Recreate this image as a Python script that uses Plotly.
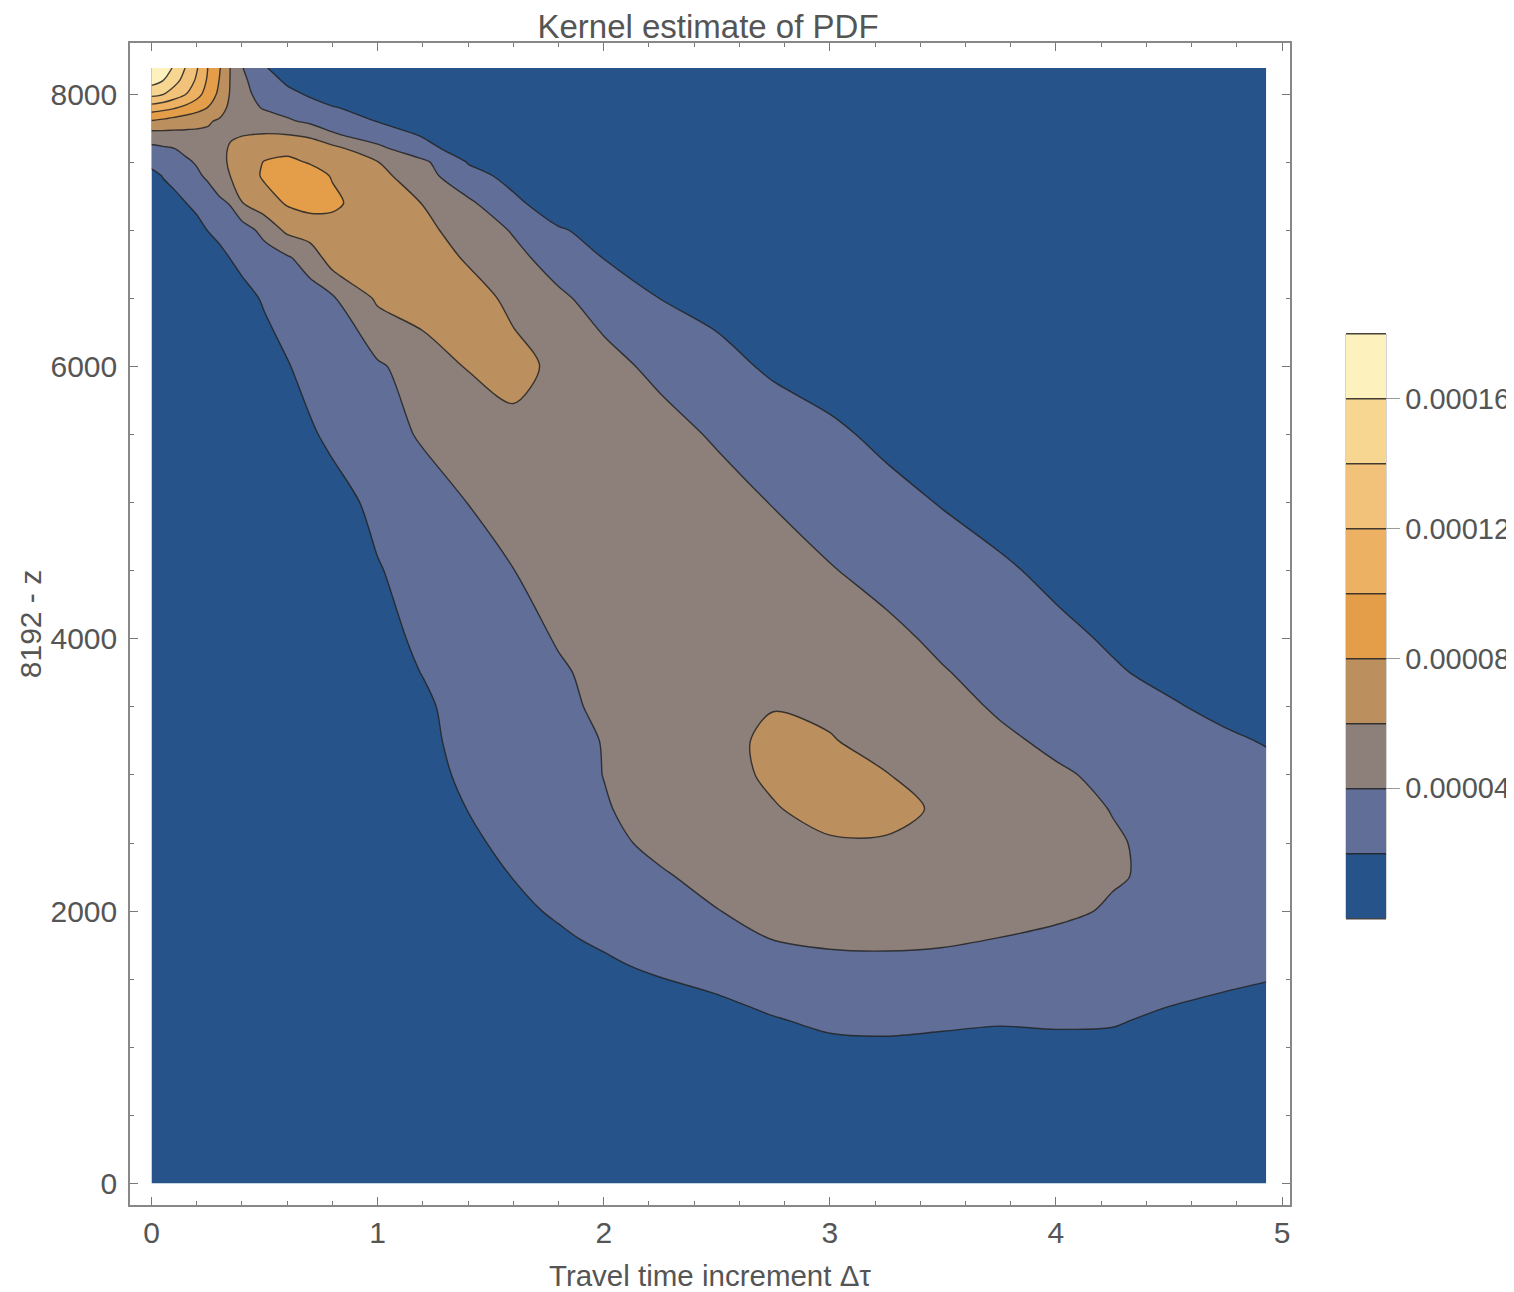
import plotly.graph_objects as go

FONT = "Liberation Sans, Arial, Helvetica, sans-serif"
TXT = "#555555"

# Grid of the kernel density estimate (in units of 1e-5)
tau = [0, 0.05, 0.1, 0.15, 0.2, 0.25, 0.3, 0.35, 0.4, 0.5, 0.6, 0.7, 0.8, 1.0, 1.2, 1.4,
       1.6, 1.8, 2.0, 2.25, 2.5, 2.75, 3.0, 3.25, 3.5, 3.75, 4.0, 4.25, 4.5, 4.75, 4.93]
depth = [0, 600, 1000, 1200, 1400, 1600, 1800, 2000, 2250, 2500, 2750, 3000, 3250, 3500,
         3750, 4000, 4500, 5000, 5500, 6000, 6500, 6800, 7000, 7200, 7400, 7500, 7600,
         7700, 7800, 7900, 8000, 8100, 8192]

pdf_y0 = [0.1, 0.1, 0.1, 0.1, 0.1, 0.1, 0.1, 0.1, 0.1, 0.1, 0.1, 0.1, 0.1, 0.1, 0.1, 0.1,
          0.1, 0.15, 0.2, 0.25, 0.3, 0.3, 0.35, 0.35, 0.35, 0.35, 0.35, 0.35, 0.3, 0.3, 0.25]
pdf_y600 = [0.1, 0.1, 0.1, 0.1, 0.1, 0.1, 0.1, 0.1, 0.1, 0.1, 0.1, 0.1, 0.1, 0.1, 0.12, 0.15,
            0.2, 0.3, 0.4, 0.5, 0.6, 0.7, 0.8, 0.85, 0.85, 0.8, 0.75, 0.75, 0.8, 0.7, 0.6]
pdf_y1000 = [0.1, 0.1, 0.1, 0.1, 0.1, 0.1, 0.1, 0.1, 0.1, 0.1, 0.1, 0.1, 0.1, 0.15, 0.25, 0.35,
             0.5, 0.65, 0.8, 0.95, 1.1, 1.4, 1.68, 1.69, 1.5, 1.3, 1.42, 1.58, 1.4, 1.1, 1.0]
pdf_y1200 = [0.1, 0.1, 0.1, 0.1, 0.1, 0.1, 0.1, 0.1, 0.1, 0.1, 0.1, 0.1, 0.12, 0.2, 0.35, 0.5,
             0.7, 0.9, 1.1, 1.3, 1.5, 1.9, 2.3, 2.45, 2.35, 2.2, 2.3, 2.15, 1.7, 1.45, 1.3]
pdf_y1400 = [0.1, 0.1, 0.1, 0.1, 0.1, 0.1, 0.1, 0.1, 0.1, 0.1, 0.1, 0.1, 0.12, 0.2, 0.4, 0.6,
             0.85, 1.1, 1.35, 1.6, 2.03, 2.55, 2.9, 3.0, 2.95, 2.85, 2.7, 2.55, 2.3, 1.97, 1.8]
pdf_y1600 = [0.1, 0.1, 0.1, 0.1, 0.1, 0.1, 0.1, 0.1, 0.1, 0.1, 0.1, 0.1, 0.15, 0.3, 0.55, 0.8,
             1.1, 1.5, 1.75, 2.3, 2.85, 3.3, 3.55, 3.6, 3.5, 3.35, 3.15, 2.95, 2.75, 2.55, 2.3]
pdf_y1800 = [0.1, 0.1, 0.1, 0.1, 0.1, 0.1, 0.1, 0.1, 0.1, 0.1, 0.1, 0.12, 0.2, 0.4, 0.7, 1.0,
             1.3, 1.8, 2.25, 2.85, 3.45, 4.05, 4.3, 4.35, 4.25, 3.98, 3.6, 3.3, 3.05, 2.9, 2.75]
pdf_y2000 = [0.1, 0.1, 0.1, 0.1, 0.1, 0.1, 0.1, 0.1, 0.1, 0.1, 0.12, 0.15, 0.25, 0.5, 0.85, 1.3,
             1.7, 2.17, 2.67, 3.31, 3.96, 4.4, 4.65, 4.75, 4.75, 4.6, 4.4, 3.8, 3.45, 3.15, 2.9]
pdf_y2250 = [0.1, 0.1, 0.1, 0.1, 0.1, 0.1, 0.1, 0.1, 0.1, 0.1, 0.12, 0.2, 0.3, 0.7, 1.1, 1.6,
             2.02, 2.57, 3.12, 3.83, 4.45, 4.9, 5.15, 5.2, 5.1, 4.9, 4.6, 4.15, 3.65, 3.3, 3.0]
pdf_y2500 = [0.1, 0.1, 0.1, 0.1, 0.1, 0.1, 0.1, 0.1, 0.1, 0.12, 0.15, 0.25, 0.4, 0.9, 1.3, 1.75,
             2.35, 2.99, 3.62, 4.35, 4.9, 5.4, 5.85, 5.85, 5.5, 5.1, 4.6, 4.15, 3.6, 3.3, 2.95]
pdf_y2750 = [0.1, 0.1, 0.1, 0.1, 0.1, 0.1, 0.1, 0.1, 0.12, 0.15, 0.2, 0.3, 0.45, 1.0, 1.5, 2.02,
             2.64, 3.26, 3.89, 4.57, 5.24, 5.9, 6.5, 6.5, 5.76, 5.16, 4.55, 3.95, 3.5, 3.1, 2.8]
pdf_y3000 = [0.1, 0.1, 0.1, 0.1, 0.1, 0.1, 0.1, 0.1, 0.15, 0.2, 0.25, 0.35, 0.5, 1.2, 1.6, 2.23,
             2.83, 3.43, 4.02, 4.75, 5.47, 6.25, 6.6, 6.05, 5.43, 4.81, 4.19, 3.7, 3.25, 2.8, 2.45]
pdf_y3250 = [0.1, 0.1, 0.1, 0.1, 0.1, 0.1, 0.1, 0.15, 0.15, 0.2, 0.3, 0.4, 0.6, 1.3, 1.75, 2.33,
             2.93, 3.52, 4.05, 4.84, 5.56, 6.3, 6.1, 5.46, 4.86, 4.27, 3.72, 3.23, 2.74, 2.25, 1.9]
pdf_y3500 = [0.1, 0.1, 0.1, 0.1, 0.1, 0.1, 0.15, 0.15, 0.2, 0.25, 0.35, 0.45, 0.65, 1.4, 1.8, 2.47,
             3.08, 3.69, 4.25, 4.8, 5.3, 5.95, 5.7, 5.1, 4.5, 3.83, 3.28, 2.72, 2.18, 1.6, 1.3]
pdf_y3750 = [0.1, 0.1, 0.1, 0.1, 0.1, 0.15, 0.15, 0.2, 0.2, 0.3, 0.4, 0.5, 0.7, 1.5, 2.03, 2.65,
             3.25, 3.84, 4.35, 4.85, 5.25, 5.5, 5.4, 4.9, 4.1, 3.45, 2.82, 2.18, 1.6, 1.2, 1.0]
pdf_y4000 = [0.1, 0.1, 0.1, 0.1, 0.1, 0.15, 0.15, 0.2, 0.2, 0.3, 0.4, 0.55, 0.8, 1.6, 2.23, 2.86,
             3.47, 4.1, 4.6, 5.0, 5.3, 5.4, 5.1, 4.4, 3.68, 3.06, 2.42, 1.8, 1.3, 1.0, 0.8]
pdf_y4500 = [0.1, 0.1, 0.1, 0.15, 0.15, 0.2, 0.2, 0.25, 0.3, 0.4, 0.5, 0.7, 1.0, 1.9, 2.62, 3.3,
             3.98, 4.5, 4.9, 5.15, 5.2, 4.9, 4.1, 3.47, 2.87, 2.27, 1.6, 1.2, 0.9, 0.7, 0.6]
pdf_y5000 = [0.15, 0.15, 0.15, 0.2, 0.2, 0.25, 0.3, 0.35, 0.4, 0.5, 0.7, 0.95, 1.4, 2.39, 3.2, 4.02,
             4.6, 5.0, 5.3, 5.2, 4.8, 3.92, 3.24, 2.56, 1.9, 1.3, 0.9, 0.7, 0.6, 0.5, 0.5]
pdf_y5500 = [0.2, 0.2, 0.25, 0.3, 0.3, 0.35, 0.4, 0.5, 0.6, 0.9, 1.3, 1.8, 2.33, 3.24, 4.2, 5.0,
             5.5, 5.6, 5.3, 4.7, 3.77, 3.06, 2.34, 1.6, 1.1, 0.8, 0.65, 0.5, 0.5, 0.45, 0.45]
pdf_y6000 = [0.3, 0.35, 0.4, 0.45, 0.5, 0.6, 0.7, 0.85, 1.0, 1.6, 1.9, 2.5, 2.95, 3.75, 4.9, 6.1,
             6.6, 5.57, 4.6, 3.54, 2.62, 1.7, 1.2, 0.9, 0.7, 0.6, 0.5, 0.45, 0.4, 0.4, 0.4]
pdf_y6500 = [0.5, 0.55, 0.6, 0.7, 0.85, 1.0, 1.2, 1.45, 1.7, 2.1, 2.75, 3.2, 3.76, 6.3, 7.0, 6.8,
             5.56, 4.33, 3.26, 1.98, 1.4, 1.0, 0.8, 0.65, 0.5, 0.45, 0.4, 0.4, 0.35, 0.35, 0.35]
pdf_y6800 = [0.7, 0.8, 0.95, 1.1, 1.3, 1.5, 1.75, 2.03, 2.25, 3.0, 3.8, 4.8, 7.0, 7.2, 7.0, 5.78,
             4.5, 3.2, 1.95, 1.4, 1.1, 0.85, 0.7, 0.6, 0.5, 0.45, 0.4, 0.4, 0.35, 0.35, 0.35]
pdf_y7000 = [0.9, 1.05, 1.3, 1.55, 1.8, 2.02, 2.25, 2.9, 3.0, 4.67, 6.4, 7.0, 7.4, 7.3, 6.5, 5.15,
             3.85, 2.15, 1.5, 1.2, 0.9, 0.7, 0.6, 0.5, 0.45, 0.4, 0.4, 0.35, 0.35, 0.3, 0.3]
pdf_y7200 = [1.2, 1.45, 1.7, 1.98, 2.15, 3.0, 3.6, 4.15, 5.95, 7.1, 8.2, 8.6, 8.3, 7.1, 5.95, 4.37,
             2.34, 1.1, 0.9, 0.75, 0.6, 0.5, 0.45, 0.4, 0.4, 0.35, 0.35, 0.3, 0.3, 0.3, 0.3]
pdf_y7400 = [1.6, 2.05, 2.3, 3.2, 3.7, 4.3, 5.2, 6.05, 6.8, 8.3, 8.7, 8.6, 7.9, 6.6, 4.77, 2.6,
             1.5, 1.2, 0.95, 0.75, 0.6, 0.5, 0.45, 0.4, 0.4, 0.35, 0.35, 0.3, 0.3, 0.3, 0.3]
pdf_y7500 = [2.4, 2.8, 3.2, 3.7, 4.15, 4.8, 5.6, 6.2, 6.8, 8.1, 8.3, 7.9, 7.3, 6.05, 4.4, 1.9,
             1.4, 1.1, 0.9, 0.7, 0.55, 0.5, 0.45, 0.4, 0.4, 0.35, 0.35, 0.3, 0.3, 0.3, 0.3]
pdf_y7600 = [3.5, 3.75, 3.98, 4.4, 4.8, 5.2, 5.6, 6.15, 6.5, 7.2, 7.6, 7.4, 6.6, 4.5, 2.6, 1.1,
             0.95, 0.8, 0.7, 0.6, 0.5, 0.45, 0.4, 0.4, 0.35, 0.35, 0.35, 0.3, 0.3, 0.3, 0.3]
pdf_y7700 = [5.2, 5.3, 5.4, 5.5, 5.6, 5.75, 5.8, 5.85, 5.95, 6.1, 6.05, 5.6, 4.25, 2.96, 1.85, 1.5,
             1.2, 0.9, 0.7, 0.55, 0.45, 0.4, 0.4, 0.35, 0.35, 0.35, 0.3, 0.3, 0.3, 0.3, 0.3]
pdf_y7800 = [7.8, 7.5, 7.1, 6.8, 6.5, 6.15, 5.8, 5.6, 5.4, 5.0, 4.3, 3.65, 3.1, 1.95, 1.5, 1.2,
             0.9, 0.7, 0.55, 0.45, 0.4, 0.35, 0.35, 0.3, 0.3, 0.3, 0.3, 0.3, 0.3, 0.3, 0.3]
pdf_y7900 = [11.1, 10.7, 10.2, 9.5, 8.8, 7.95, 6.7, 5.6, 4.9, 3.8, 3.2, 2.65, 2.08, 1.5, 1.1, 0.8,
             0.6, 0.5, 0.4, 0.35, 0.3, 0.3, 0.3, 0.3, 0.3, 0.3, 0.3, 0.3, 0.3, 0.3, 0.3]
pdf_y8000 = [14.6, 14.1, 13.1, 12.1, 10.75, 9.1, 7.6, 5.8, 4.55, 3.3, 2.45, 1.8, 1.4, 1.0, 0.8, 0.6,
             0.5, 0.4, 0.3, 0.3, 0.3, 0.3, 0.3, 0.3, 0.3, 0.3, 0.3, 0.3, 0.3, 0.3, 0.3]
pdf_y8100 = [16.8, 16.05, 14.7, 13.3, 11.7, 9.7, 7.95, 5.87, 4.4, 2.8, 1.7, 1.3, 1.0, 0.8, 0.6, 0.5,
             0.4, 0.3, 0.3, 0.3, 0.3, 0.3, 0.3, 0.3, 0.3, 0.3, 0.3, 0.3, 0.3, 0.3, 0.3]
pdf_y8192 = [17.6, 16.9, 15.8, 13.95, 12.2, 9.95, 8.2, 5.9, 4.1, 2.1, 1.4, 1.0, 0.8, 0.6, 0.5, 0.4,
             0.3, 0.3, 0.3, 0.3, 0.3, 0.3, 0.3, 0.3, 0.3, 0.3, 0.3, 0.3, 0.3, 0.3, 0.3]

pdf_rows = [pdf_y0, pdf_y600, pdf_y1000, pdf_y1200, pdf_y1400, pdf_y1600, pdf_y1800, pdf_y2000,
            pdf_y2250, pdf_y2500, pdf_y2750, pdf_y3000, pdf_y3250, pdf_y3500, pdf_y3750, pdf_y4000,
            pdf_y4500, pdf_y5000, pdf_y5500, pdf_y6000, pdf_y6500, pdf_y6800, pdf_y7000, pdf_y7200,
            pdf_y7400, pdf_y7500, pdf_y7600, pdf_y7700, pdf_y7800, pdf_y7900, pdf_y8000, pdf_y8100,
            pdf_y8192]
UNIT = 1e-5
z = [[v * UNIT for v in row] for row in pdf_rows]

level_start, level_end, level_step = 0.0, 18e-5, 2e-5
cb_tickvals = [4e-5, 8e-5, 12e-5, 16e-5]
cb_ticktext = ["0.00004", "0.00008", "0.00012", "0.00016"]

# first/last entries are the (never drawn) bands below 0 and above 0.00018
band_colors = ["#FFFFFF", "#25538A", "#616F98", "#8D807A", "#BC8F5F", "#E49E49",
               "#ECB163", "#F3C27A", "#F7D692", "#FDF1BE", "#FFFFFF"]
n = len(band_colors) - 1
colorscale = [[i / n, c] for i, c in enumerate(band_colors)]

# page body adds an 8px margin, so the figure is 8px smaller than the window on each axis
W, H = 1506, 1284
ML, MT, MR, MB = 122, 35, 224, 87
PW, PH = W - ML - MR, H - MT - MB


def px_x(px):  # screen pixel -> paper x
    return (px - 8 - ML) / PW


def px_y(py):  # screen pixel -> paper y
    return 1 - (py - 8 - MT) / PH


fig = go.Figure(go.Contour(
    x=tau, y=depth, z=z,
    contours=dict(start=level_start, end=level_end, size=level_step,
                  coloring="fill", showlines=True),
    colorscale=colorscale,
    line=dict(color="rgba(35,35,35,0.85)", width=1.4, smoothing=0.85),
    hoverinfo="skip",
    colorbar=dict(
        thickness=40, thicknessmode="pixels",
        len=649, lenmode="pixels",
        x=px_x(1346), xanchor="left", xpad=0,
        y=px_y(626), yanchor="middle", ypad=0,
        outlinewidth=0,
        tickvals=cb_tickvals, ticktext=cb_ticktext,
        ticks="outside", ticklen=14, tickwidth=1, tickcolor="#9a9a9a",
        tickfont=dict(size=29, color=TXT, family=FONT),
    ),
))

axis_common = dict(
    showline=True, linecolor="#888888", linewidth=1.5, mirror="ticks",
    showgrid=False, zeroline=False, automargin=False,
    ticks="inside", tickcolor="#777777", tickwidth=1.2, ticklen=8,
    tickfont=dict(size=30, color=TXT, family=FONT),
)

fig.update_layout(
    width=W, height=H,
    margin=dict(l=ML, r=MR, t=MT, b=MB, autoexpand=False),
    paper_bgcolor="white", plot_bgcolor="white",
    title=dict(text="Kernel estimate of PDF", x=px_x(708), xref="paper", xanchor="center",
               y=1 - (26 - 8) / H, yref="container", yanchor="middle",
               font=dict(size=33, color=TXT, family=FONT)),
    xaxis=dict(range=[-0.095, 5.035], tickvals=[0, 1, 2, 3, 4, 5],
               minor=dict(dtick=0.2, tick0=0, ticks="inside", ticklen=4.5,
                          tickcolor="#777777", tickwidth=1),
               ticklabelstandoff=0,
               title=dict(text="Travel time increment Δτ", standoff=18,
                          font=dict(size=29.5, color=TXT, family=FONT)),
               **axis_common),
    yaxis=dict(range=[-158, 8375], tickvals=[0, 2000, 4000, 6000, 8000],
               minor=dict(dtick=500, tick0=0, ticks="inside", ticklen=4.5,
                          tickcolor="#777777", tickwidth=1),
               ticklabelstandoff=5,
               title=dict(text="8192 - z", standoff=0,
                          font=dict(size=30, color=TXT, family=FONT)),
               **axis_common),
    shapes=[
        # light outline of the colour bar body
        dict(type="rect", xref="paper", yref="paper",
             x0=px_x(1346), x1=px_x(1386), y0=px_y(918), y1=px_y(334),
             line=dict(color="#aaaaaa", width=1), fillcolor="rgba(0,0,0,0)", layer="above"),
    ],
)

fig.write_html("out.html")
